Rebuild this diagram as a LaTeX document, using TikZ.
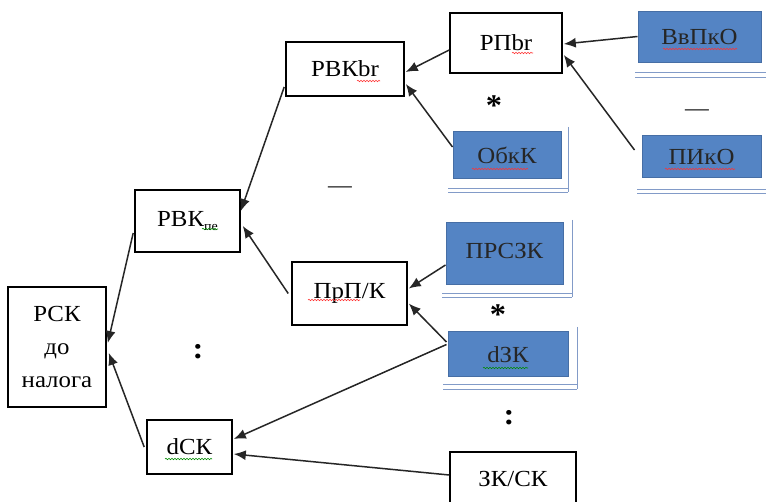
\documentclass[tikz,border=0pt]{standalone}
\usepackage{fontspec}
\setmainfont{Liberation Serif}[FakeStretch=1.08]
\usetikzlibrary{arrows.meta,calc,decorations.pathmorphing}
\definecolor{bfill}{RGB}{84,132,196}
\definecolor{bedge}{RGB}{70,110,165}
\definecolor{bline}{RGB}{130,155,200}
\begin{document}
\begin{tikzpicture}[x=1pt,y=-1pt,
  wbox/.style={draw=black,line width=1.6pt,fill=white,inner sep=0pt,font=\fontsize{23}{33}\selectfont,align=center},
  bbox/.style={draw=bedge,line width=1pt,fill=bfill,inner sep=0pt,font=\fontsize{23}{26}\selectfont,text=black!85},
  arr/.style={draw=black!85,line width=1.5pt,-{Latex[length=12pt,width=10pt]}},
  deco/.style={draw=bline,line width=0.8pt},
  sym/.style={inner sep=0pt,font=\fontsize{30}{30}\selectfont\bfseries},
  squigr/.style={draw=red!80,line width=0.6pt,decorate,decoration={snake,amplitude=0.7pt,segment length=3pt}},
  squigg/.style={draw=green!55!black,line width=0.6pt,decorate,decoration={snake,amplitude=0.7pt,segment length=3pt}}
]
\useasboundingbox (0,0) rectangle (766,502);
\fill[white] (0,0) rectangle (766,502);

% decorative lines of blue boxes
\draw[deco] (635,72) -- (766,72) (635,77) -- (766,77);
\draw[deco] (637,189) -- (766,189) (637,193) -- (766,193);
\draw[deco] (448,188) -- (568,188) (448,192) -- (568,192) (568,127) -- (568,192);
\draw[deco] (442,293) -- (572,293) (442,297) -- (572,297) (572,220) -- (572,297);
\draw[deco] (443,384) -- (577,384) (443,389) -- (577,389) (577,327) -- (577,389);

% white boxes
\node[wbox,minimum width=98pt,minimum height=120pt] (rsk) at (57,347) {РСК\\до\\налога};
\node[wbox,minimum width=105pt,minimum height=62pt] (rvkpe) at (187.5,221) {\raisebox{5pt}{РВК\raisebox{-4pt}{\fontsize{13}{13}\selectfont пе}}};
\node[wbox,minimum width=85pt,minimum height=54pt] (dsk) at (189.5,447) {dСК};
\node[wbox,minimum width=118pt,minimum height=54pt] (rvkbr) at (345,69) {РВКbr};
\node[wbox,minimum width=112pt,minimum height=60pt] (rpbr) at (506,43) {РПbr};
\node[wbox,minimum width=115pt,minimum height=63pt] (prpk) at (349.5,293.5) {\raisebox{5pt}{ПрП/К}};
\begin{scope}
\clip (0,0) rectangle (766,502);
\node[wbox,minimum width=126pt,minimum height=60pt] (zksk) at (513,482) {\raisebox{6pt}{ЗК/СК}};
\end{scope}

% blue boxes
\node[bbox,minimum width=108pt,minimum height=47pt] (obkk) at (507,155.5) {ОбкК};
\node[bbox,minimum width=123pt,minimum height=51pt] (vvpko) at (699.5,37.5) {ВвПкО};
\node[bbox,minimum width=119pt,minimum height=42pt] (piko) at (701.5,157) {ПИкО};
\node[bbox,minimum width=117pt,minimum height=62pt] (prszk) at (504.5,254) {\raisebox{6pt}{ПРСЗК}};
\node[bbox,minimum width=120pt,minimum height=45pt] (dzk) at (508,354.5) {dЗК};

% symbols
\node[sym] (s1) at (494,106) {*};
\node[sym] (s2) at (498,315) {*};
\node[sym] (c1) at (198,352) {:};
\node[sym] (c2) at (509,418) {:};
\node[inner sep=0pt,font=\fontsize{22}{22}\selectfont] (d1) at (340,190) {—};
\node[inner sep=0pt,font=\fontsize{22}{22}\selectfont] (d2) at (697,113) {—};

% arrows
\draw[arr] ($(rvkpe.west)+(-1,12)$) -- ($(rsk.east)+(1,-4)$);
\draw[arr] ($(dsk.west)+(-2,0)$) -- ($(rsk.east)+(2,6)$);
\draw[arr] ($(rvkbr.west)+(-1,18)$) -- ($(rvkpe.east)+(0,-10)$);
\draw[arr] ($(prpk.west)+(-3,0)$) -- ($(rvkpe.east)+(2,5)$);
\draw[arr] ($(rpbr.west)+(0,7)$) -- ($(rvkbr.east)+(1,3)$);
\draw[arr] ($(obkk.west)+(0,-8.5)$) -- ($(rvkbr.east)+(1,15)$);
\draw[arr] ($(vvpko.west)+(0,-1)$) -- ($(rpbr.east)+(1,1)$);
\draw[arr] ($(piko.west)+(-7,-7)$) -- ($(rpbr.east)+(1,12)$);
\draw[arr] ($(prszk.west)+(0,11)$) -- ($(prpk.east)+(1,-5)$);
\draw[arr] ($(dzk.west)+(-1,-12.5)$) -- ($(prpk.east)+(1,10)$);
\draw[arr] ($(dzk.west)+(-1,-10)$) -- ($(dsk.east)+(1,-8)$);
\draw[arr] ($(zksk.west)+(0,-7)$) -- ($(dsk.east)+(1,7)$);

% spell-check underlines
\draw[squigr] (357,81) -- (380,81);
\draw[squigr] (512,53) -- (533,53);
\draw[squigr] (472,169) -- (528,169);
\draw[squigr] (663,49) -- (737,49);
\draw[squigr] (665,169) -- (735,169);
\draw[squigr] (308,300) -- (360,300);
\draw[squigg] (202,229) -- (218,229);
\draw[squigg] (165,459) -- (212,459);
\draw[squigg] (483,368) -- (528,368);
\end{tikzpicture}
\end{document}
